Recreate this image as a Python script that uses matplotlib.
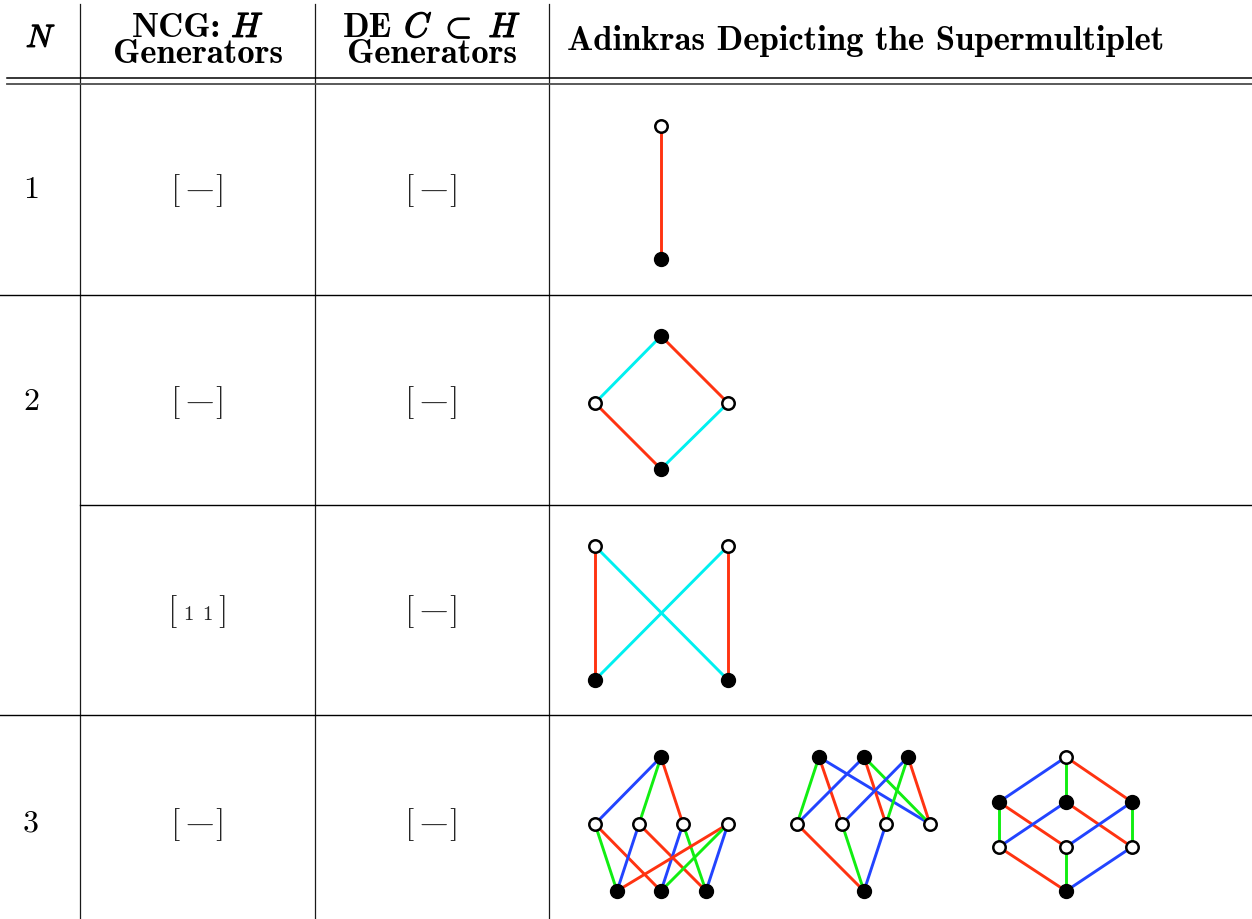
import matplotlib
matplotlib.use("Agg")
import matplotlib.pyplot as plt
import matplotlib.patheffects as pe

plt.rcParams["mathtext.fontset"] = "cm"

# table text
n_labels = ["1", "2", "3"]
n_label_y = [188, 400, 822]
ncg_gens = ["-", "-", "1 1", "-"]
de_gens = ["-", "-", "-", "-"]
gen_row_y = [191, 403, 612, 825]

# supercharge colours per N (edge index -> colour)
palettes = {
    1: ["#ff3311"],
    2: ["#ff3311", "#00f0f0"],
    3: ["#ff3311", "#11ee11", "#2244ff"],
}

# adinkras: node x, node y, filled (boson/fermion), edges (i, j, charge)
a1_x = [661, 661]
a1_y = [126, 259]
a1_fill = [0, 1]
a1_edges = [(0, 1, 0)]

a2a_x = [661, 595, 728, 661]
a2a_y = [336, 403, 403, 469]
a2a_fill = [1, 0, 0, 1]
a2a_edges = [(0, 1, 1), (0, 2, 0), (1, 3, 0), (2, 3, 1)]

a2b_x = [595, 728, 595, 728]
a2b_y = [546, 546, 680, 680]
a2b_fill = [0, 0, 1, 1]
a2b_edges = [(0, 2, 0), (1, 3, 0), (0, 3, 1), (1, 2, 1)]

a3a_x = [661, 595, 639, 683, 728, 617, 661, 706]
a3a_y = [757, 824, 824, 824, 824, 891, 891, 891]
a3a_fill = [1, 0, 0, 0, 0, 1, 1, 1]
a3a_edges = [(0, 1, 2), (0, 2, 1), (0, 3, 0), (1, 5, 1), (1, 6, 0), (2, 5, 2),
             (2, 7, 0), (3, 6, 2), (3, 7, 1), (4, 5, 0), (4, 6, 1), (4, 7, 2)]

a3b_x = [819, 864, 908, 797, 842, 886, 930, 864]
a3b_y = [757, 757, 757, 824, 824, 824, 824, 891]
a3b_fill = [1, 1, 1, 0, 0, 0, 0, 1]
a3b_edges = [(0, 3, 1), (0, 4, 0), (0, 6, 2), (1, 3, 2), (1, 5, 0), (1, 6, 1),
             (2, 4, 2), (2, 5, 1), (2, 6, 0), (3, 7, 0), (4, 7, 1), (5, 7, 2)]

a3c_x = [1066, 999, 1066, 1132, 999, 1066, 1132, 1066]
a3c_y = [757, 802, 802, 802, 847, 847, 847, 891]
a3c_fill = [0, 1, 1, 1, 0, 0, 0, 1]
a3c_edges = [(0, 1, 2), (0, 2, 1), (0, 3, 0), (1, 4, 1), (1, 5, 0), (2, 4, 2),
             (2, 6, 0), (3, 5, 2), (3, 6, 1), (4, 7, 0), (5, 7, 1), (6, 7, 2)]

adinkras = [
    (1, a1_x, a1_y, a1_fill, a1_edges),
    (2, a2a_x, a2a_y, a2a_fill, a2a_edges),
    (2, a2b_x, a2b_y, a2b_fill, a2b_edges),
    (3, a3a_x, a3a_y, a3a_fill, a3a_edges),
    (3, a3b_x, a3b_y, a3b_fill, a3b_edges),
    (3, a3c_x, a3c_y, a3c_fill, a3c_edges),
]

W, H = 1252, 919
fig = plt.figure(figsize=(W / 100, H / 100), dpi=100)
ax = fig.add_axes([0, 0, 1, 1])
ax.set_xlim(0, W)
ax.set_ylim(H, 0)
ax.axis("off")
renderer = fig.canvas.get_renderer()

# grid lines
for x in [80, 315, 549]:
    ax.plot([x, x], [4, H], color="0.1", lw=0.9)
ax.plot([7, W], [78, 78], color="black", lw=1.1)
ax.plot([7, W], [84, 84], color="0.3", lw=1.3)
ax.plot([0, W], [295, 295], color="black", lw=1.0)
ax.plot([80, W], [505, 505], color="black", lw=1.0)
ax.plot([0, W], [715, 715], color="black", lw=1.0)

FS = 25
bold = dict(family="cmb10", fontsize=FS, va="baseline")
emb = [pe.withStroke(linewidth=0.9, foreground="black")]


def centered_line(xc, y, pieces, gap=8):
    # pieces: (text, is_math); laid out left to right, centred on xc
    arts = []
    for s, is_math in pieces:
        if is_math:
            t = ax.text(0, y, s, fontsize=FS, ha="left", va="baseline", path_effects=emb)
        else:
            t = ax.text(0, y, s, ha="left", **bold)
        arts.append(t)
    widths = [t.get_window_extent(renderer).width for t in arts]
    total = sum(widths) + gap * (len(arts) - 1)
    x = xc - total / 2
    for t, w in zip(arts, widths):
        t.set_x(x)
        x += w + gap


# header
ax.text(41, 47, "$N$", fontsize=23, ha="center", va="baseline", path_effects=emb)
centered_line(198, 37, [("NCG:", False), ("$H$", True)], gap=10)
ax.text(198, 63, "Generators", ha="center", **bold)
centered_line(432, 37, [("DE", False), (r"$C\ \subset\ H$", True)], gap=12)
ax.text(432, 63, "Generators", ha="center", **bold)
ax.text(567, 50, "Adinkras Depicting the Supermultiplet", ha="left", **bold)

# N column
for lab, y in zip(n_labels, n_label_y):
    ax.text(31, y + 10, lab, family="cmr10", fontsize=23, ha="center", va="baseline")


def bracket(x, y, inner):
    base = y + 8
    half = 22 if inner == "-" else 25
    for dx, b in [(-half, "["), (half, "]")]:
        ax.text(x + dx, base, b, family="cmr10", fontsize=24, ha="center",
                va="baseline", color="0.15")
    if inner == "-":
        ax.text(x, base + 1, "$-$", fontsize=30, ha="center", va="baseline",
                color="0.2")
    else:
        for k, d in enumerate(inner.split()):
            ax.text(x + (k - 0.5) * 19, base, d, family="cmr10", fontsize=15,
                    ha="center", va="baseline", color="0.15")


for g1, g2, y in zip(ncg_gens, de_gens, gen_row_y):
    bracket(198, y, g1)
    bracket(432, y, g2)

# adinkras
for n, xs, ys, fill, edges in adinkras:
    cols = palettes[n]
    for i, j, q in edges:
        ax.plot([xs[i], xs[j]], [ys[i], ys[j]], color=cols[q], lw=2.1, zorder=2,
                solid_capstyle="butt")
    fx = [x for x, f in zip(xs, fill) if f]
    fy = [y for y, f in zip(ys, fill) if f]
    ox = [x for x, f in zip(xs, fill) if not f]
    oy = [y for y, f in zip(ys, fill) if not f]
    ax.scatter(fx, fy, s=100, color="black", zorder=3)
    ax.scatter(ox, oy, s=80, facecolor="white", edgecolor="black", linewidths=1.8,
               zorder=3)

fig.savefig("out.png", dpi=100)
